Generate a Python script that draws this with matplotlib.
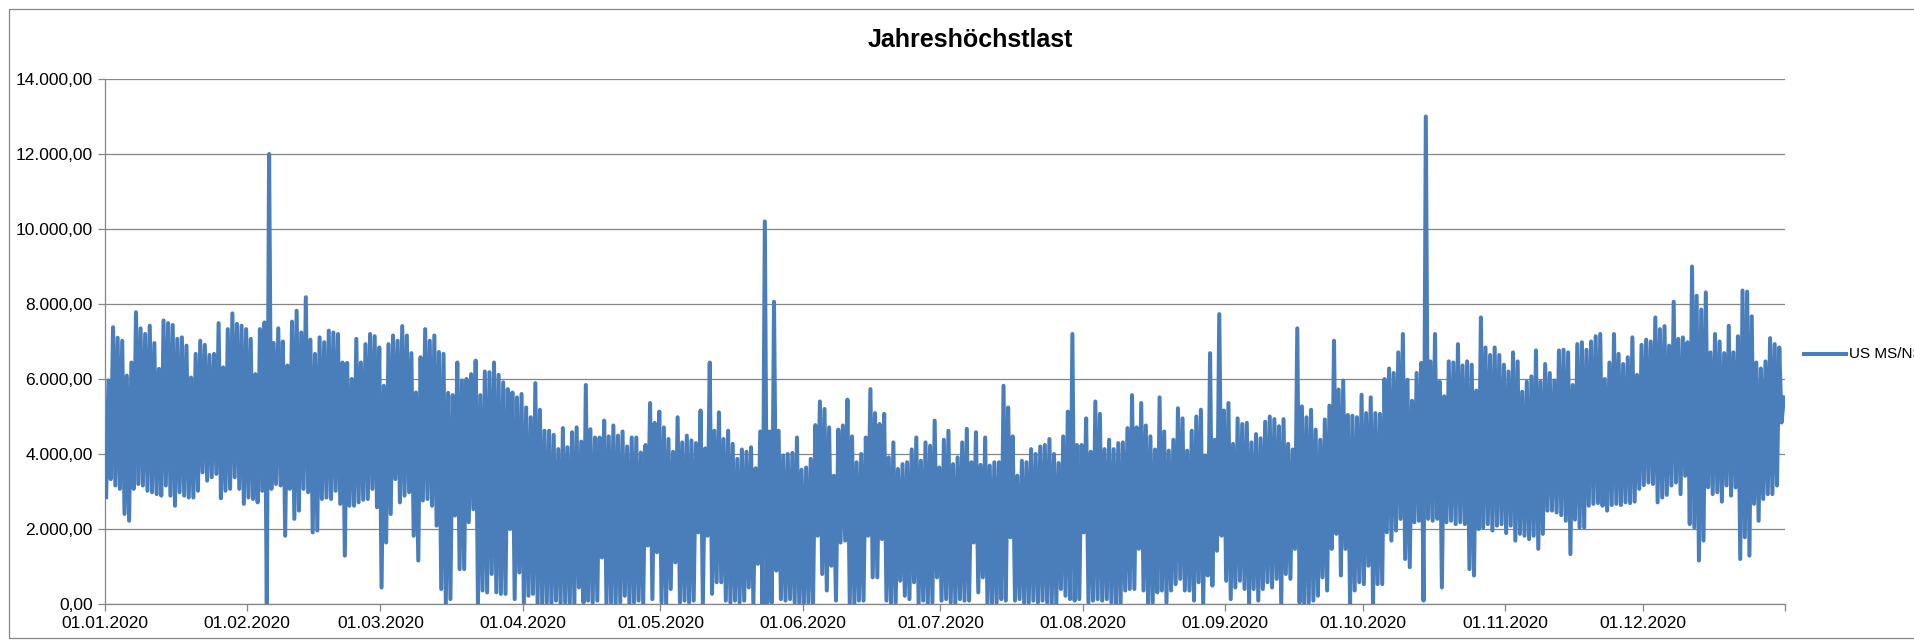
import numpy as np
import pandas as pd
import matplotlib
matplotlib.use("Agg")
import matplotlib.pyplot as plt
from matplotlib.lines import Line2D
from matplotlib.patches import Rectangle
from matplotlib.ticker import FuncFormatter

# daily maxima / minima (kW), one value per day
q1_high = [5960, 7380, 7100, 7020, 6090, 6440, 7780, 7350, 7200, 7420,
           6960, 6270, 7560, 7490, 7440, 7070, 7110, 6890, 6040, 6670,
           7020, 6910, 6640, 6670, 7490, 6310, 7330, 7750, 7470, 7420,
           7330, 7070, 6130, 7330, 7510, 12000, 6960, 7350, 7000, 6360,
           7530, 7820, 7240, 8180, 7050, 6670, 7110, 6980, 7290, 7240,
           7200, 6440, 6430, 6000, 7070, 6440, 6930, 7200, 7140, 6840,
           5820, 6930, 7160, 7020, 7410, 7160, 6690, 5640, 6580, 7330,
           7020, 7160, 6720, 6670, 5630, 5570, 6440, 5960, 6000, 6130,
           6490, 5570, 6200, 6180, 6440, 6110, 5910, 5730, 5640, 5510]
q1_low = [2850, 3330, 3160, 3070, 2400, 2220, 3070, 3200, 3160, 3020,
          2980, 2930, 2890, 3160, 2890, 2620, 2980, 2890, 2840, 2840,
          3020, 3510, 3290, 3380, 3470, 2820, 3020, 3070, 3380, 3070,
          2670, 2840, 2800, 2710, 3020, 0, 3070, 3200, 3160, 1820,
          3070, 2270, 2490, 3070, 2980, 1910, 1960, 2800, 2840, 2800,
          3020, 2670, 1290, 2620, 2620, 2710, 2780, 2800, 3070, 2580,
          440, 1640, 2400, 3330, 2710, 2890, 2980, 1820, 1160, 2760,
          2800, 2620, 2090, 400, 0, 130, 2360, 930, 930, 2180,
          2530, 0, 360, 310, 800, 310, 270, 270, 2000, 130]

q2_high = [5600, 5240, 4980, 5890, 5180, 4620, 4620, 4510, 4130, 4690,
           4180, 4580, 4710, 4330, 5840, 4660, 4440, 4440, 4890, 4470,
           4760, 4490, 4600, 4200, 4440, 4440, 4040, 4240, 5360, 4830,
           5130, 4710, 4400, 4060, 4980, 4310, 4490, 4360, 4290, 5160,
           4150, 6440, 4620, 5110, 4400, 4620, 4270, 3870, 4120, 4060,
           4180, 3620, 4600, 10200, 4600, 8060, 4620, 3960, 4000, 4030,
           4440, 3580, 3640, 3870, 4770, 5400, 5200, 4710, 3420, 4650,
           4760, 5450, 4470, 3780, 4000, 4440, 5730, 5090, 4800, 5070,
           3910, 4310, 3600, 3730, 3780, 4120, 4440, 3820, 4310, 4220,
           4890]
q2_low = [840, 0, 220, 270, 0, 0, 40, 0, 90, 0,
          40, 0, 0, 440, 40, 90, 40, 90, 1240, 0,
          40, 0, 40, 220, 0, 40, 90, 0, 1560, 130,
          1380, 40, 0, 400, 1110, 40, 90, 40, 90, 1910,
          0, 1820, 270, 580, 580, 90, 40, 90, 40, 90,
          440, 0, 1070, 0, 0, 40, 890, 130, 90, 130,
          40, 0, 0, 40, 0, 1820, 800, 360, 1020, 90,
          1640, 1690, 0, 0, 90, 90, 1820, 710, 710, 1730,
          90, 0, 40, 620, 220, 130, 580, 0, 90, 0,
          40]

q3_high = [3640, 4380, 4620, 3730, 3910, 4310, 4670, 3780, 4580, 3710,
           4440, 3690, 3780, 3780, 5820, 5240, 4470, 3420, 3820, 3780,
           4130, 4000, 4200, 4240, 4400, 4000, 3760, 4470, 5130, 7200,
           4240, 4240, 4950, 4060, 5400, 5070, 4130, 4380, 4130, 4290,
           4310, 4690, 5570, 4710, 5360, 4760, 4470, 4120, 5510, 4600,
           4090, 4380, 5220, 4950, 4090, 4620, 5000, 5180, 3960, 6690,
           4380, 7730, 5160, 5360, 4270, 4950, 4800, 4830, 4310, 4530,
           4420, 4860, 5000, 4930, 4740, 4930, 4270, 4120, 7350, 5270,
           4980, 5180, 4650, 4380, 4920, 5290, 7020, 5720, 5960, 5040,
           5020]
q3_low = [710, 90, 130, 40, 0, 130, 90, 90, 1640, 310,
          710, 0, 0, 40, 130, 90, 1780, 90, 130, 0,
          40, 90, 40, 90, 40, 0, 0, 400, 220, 130,
          90, 130, 1910, 40, 90, 130, 90, 130, 40, 0,
          0, 360, 400, 400, 1470, 360, 0, 40, 310, 360,
          40, 360, 530, 670, 360, 360, 90, 580, 0, 760,
          490, 1420, 1820, 620, 130, 440, 620, 400, 0, 400,
          90, 400, 580, 440, 670, 0, 800, 670, 1470, 40,
          0, 40, 90, 220, 710, 360, 1470, 1870, 760, 1470,
          0]

q4_high = [4980, 5580, 5090, 5510, 5090, 5070, 6000, 6280, 6160, 6710,
           7200, 5980, 5420, 6160, 6430, 13000, 6470, 7200, 5930, 5540,
           6470, 6440, 6930, 6360, 6470, 6380, 5690, 7640, 6840, 6640,
           6840, 6640, 6380, 6200, 6710, 6470, 5660, 5930, 6070, 6760,
           5930, 6400, 6160, 5960, 6760, 6780, 6710, 5840, 6930, 6980,
           6780, 7000, 7140, 7200, 6000, 6440, 7200, 6670, 6400, 6580,
           7110, 6110, 6910, 7050, 7000, 7640, 7330, 7410, 6890, 8060,
           7070, 7110, 6980, 9000, 8220, 7850, 8310, 6710, 7200, 7000,
           6690, 7420, 6710, 7140, 8360, 8330, 7670, 6440, 6280, 6470,
           7090, 6930, 6840, 5510]
q4_low = [360, 580, 530, 1020, 0, 530, 530, 1910, 1690, 1960,
          2270, 1200, 980, 2180, 2220, 90, 2270, 2220, 2270, 440,
          2180, 2220, 2130, 2180, 2130, 930, 760, 2000, 2040, 2130,
          1960, 2090, 2130, 1890, 2090, 1690, 1870, 1820, 1730, 1820,
          1470, 1870, 2490, 2490, 2440, 2370, 2220, 1330, 2250, 2040,
          2040, 2620, 2670, 2690, 2620, 2490, 2640, 2670, 2640, 2710,
          2690, 2730, 3070, 3170, 3240, 3200, 2710, 2840, 2910, 3160,
          3240, 2930, 3420, 2130, 2040, 1160, 1690, 3110, 2930, 2980,
          2730, 3160, 2890, 3110, 1200, 1780, 1290, 2670, 2220, 2800,
          2930, 2930, 3160, 4840]

series_name = "US MS/NS"
chart_title = "Jahreshöchstlast"
month_starts = pd.date_range("2020-01-01", "2021-01-01", freq="MS")
month_labels = [d.strftime("%d.%m.%Y") for d in month_starts[:-1]] + [""]

plt.rcParams['font.family'] = ['Liberation Sans', 'DejaVu Sans']
blue = '#4A7EBB'
grey = '#868686'

daily_high = np.array(q1_high + q2_high + q3_high + q4_high)
daily_low = np.array(q1_low + q2_low + q3_low + q4_low)
days = pd.date_range("2020-01-01", periods=len(daily_high), freq="D")

# low in the morning, peak in the evening of every day
times = np.empty(2 * len(days), dtype="datetime64[ns]")
times[0::2] = (days + pd.Timedelta(hours=6)).values
times[1::2] = (days + pd.Timedelta(hours=18)).values
load = np.empty(2 * len(days))
load[0::2] = daily_low
load[1::2] = daily_high


def german(v, pos):
    s = f"{v:,.2f}"
    return s.replace(",", "X").replace(".", ",").replace("X", ".")


W, H = 1914, 641
fig = plt.figure(figsize=(W / 100, H / 100), dpi=100)
ax = fig.add_axes([105 / W, 37 / H, 1680 / W, 525 / H])

ax.plot(times, load, color=blue, lw=2.9, solid_joinstyle='round', zorder=3)

ax.set_ylim(0, 14000)
ax.set_yticks(range(0, 14001, 2000))
ax.yaxis.set_major_formatter(FuncFormatter(german))
ax.set_xlim(month_starts[0], month_starts[-1])
ax.set_xticks(month_starts)
ax.set_xticklabels(month_labels)

ax.grid(axis='y', color=grey, lw=0.9)
ax.set_axisbelow(True)
for s in ['top', 'right']:
    ax.spines[s].set_visible(False)
for s in ['left', 'bottom']:
    ax.spines[s].set_color(grey)
    ax.spines[s].set_linewidth(0.9)
ax.tick_params(axis='both', direction='out', length=5, color=grey, width=0.9,
               labelsize=12.5, pad=4)

fig.text(970 / W, 1 - 40 / H, chart_title, ha='center', va='center',
         fontsize=18, fontweight='bold')

ly = 1 - 354 / H
fig.add_artist(Line2D([1804 / W, 1846 / W], [ly, ly], transform=fig.transFigure,
                      color=blue, lw=2.9))
fig.text(1849 / W, ly, series_name, va='center', fontsize=11)

fig.add_artist(Rectangle((9 / W, 3 / H), 1.2, 1 - 12 / H, transform=fig.transFigure,
                         fill=False, edgecolor=grey, lw=0.9))

fig.savefig("out.png", dpi=100)
